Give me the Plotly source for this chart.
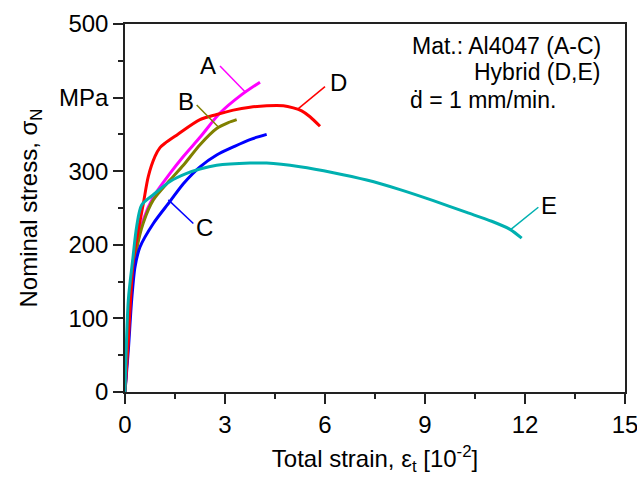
import plotly.graph_objects as go

# ---- data ----
a_x = [0, 0.1, 0.2, 0.35, 0.55, 0.85, 1.35, 1.75, 2.25, 2.85, 3.5, 4.05]
a_y = [0, 80, 145, 197, 234, 265, 297, 320, 346, 379, 404, 421]

b_x = [0, 0.1, 0.2, 0.35, 0.55, 0.85, 1.35, 1.75, 2.25, 2.75, 3.1, 3.35]
b_y = [0, 78, 142, 194, 230, 261, 288, 308, 336, 358, 366, 370]

c_x = [0, 0.1, 0.2, 0.3, 0.45, 0.85, 1.35, 1.75, 2.25, 2.75, 3.25, 3.75, 4.25]
c_y = [0, 57, 125, 170, 197, 229, 259, 283, 306, 322, 333, 343, 350]

d_x = [0, 0.1, 0.25, 0.4, 0.55, 0.7, 0.9, 1.05, 1.2, 1.55, 2.25, 2.75, 3.25,
       3.75, 4.25, 4.75, 5.05, 5.3, 5.55, 5.85]
d_y = [0, 70, 179, 220, 256, 293, 320, 332, 338, 349, 370, 377, 383,
       387, 389, 389, 386, 382, 374, 361]

e_x = [0, 0.1, 0.23, 0.35, 0.5, 0.85, 1.35, 1.85, 2.25, 2.75, 3.75, 4.25,
       5.25, 6.25, 7.25, 8.25, 9.25, 10.25, 11.0, 11.55, 11.9]
e_y = [0, 125, 179, 225, 254, 268, 286, 297, 303, 308, 311, 311,
       306, 298, 288, 275, 260, 244, 232, 221, 209]

labels = ["A", "B", "C", "D", "E"]
colors = ["#FF00FF", "#808000", "#0000FF", "#FF0000", "#00B0B0"]
label_x = [2.49, 1.83, 2.37, 6.39, 12.72]
label_y = [444, 395, 223, 421, 254]
leader_x = [[2.85, 3.6], [2.15, 2.8], [1.3, 2.05], [5.2, 6.0], [11.55, 12.4]]
leader_y = [[443, 408], [390, 360], [261, 229], [385, 415], [220, 251]]

x_ticks = [0, 3, 6, 9, 12, 15]
y_ticks = [0, 100, 200, 300, 400, 500]
y_ticktext = ["0", "100", "200", "300", "MPa", "500"]

info_lines = ["Mat.: Al4047 (A-C)", "Hybrid (D,E)", "ḋ = 1 mm/min."]

FONT = "Liberation Sans, Arial, sans-serif"

fig = go.Figure()
series = [(a_x, a_y), (b_x, b_y), (c_x, c_y), (d_x, d_y), (e_x, e_y)]
for (xs, ys), col, lab in zip(series, colors, labels):
    fig.add_trace(go.Scatter(x=xs, y=ys, mode="lines", name=lab,
                             line=dict(color=col, width=3, shape="spline", smoothing=0.8),
                             showlegend=False, hoverinfo="skip"))
for lx, ly, col in zip(leader_x, leader_y, colors):
    fig.add_trace(go.Scatter(x=lx, y=ly, mode="lines", line=dict(color=col, width=1.5),
                             showlegend=False, hoverinfo="skip"))
for lab, tx, ty in zip(labels, label_x, label_y):
    fig.add_annotation(x=tx, y=ty, text=lab, showarrow=False, yanchor="middle",
                       font=dict(family=FONT, size=24, color="black"))

fig.add_annotation(x=14.35, y=470, xanchor="right", yanchor="middle",
                   text=info_lines[0], showarrow=False,
                   font=dict(family=FONT, size=23, color="black"))
fig.add_annotation(x=14.35, y=435, xanchor="right", yanchor="middle",
                   text=info_lines[1], showarrow=False,
                   font=dict(family=FONT, size=23, color="black"))
fig.add_annotation(x=8.5, y=397, xanchor="left", yanchor="middle",
                   text=info_lines[2], showarrow=False,
                   font=dict(family=FONT, size=23, color="black"))

axis_common = dict(showgrid=False, zeroline=False, showline=True, linecolor="#222",
                   linewidth=1.5, mirror=True, ticks="outside", ticklen=10,
                   tickwidth=1.5, tickcolor="#222", automargin=False,
                   ticklabeloverflow="allow",
                   tickfont=dict(family=FONT, size=24, color="black"))

fig.update_xaxes(range=[0, 15], tickvals=x_ticks, ticktext=[str(v) for v in x_ticks],
                 minor=dict(dtick=1.5, ticks="outside", ticklen=5, tickwidth=1.5, tickcolor="#222"),
                 title=dict(text="Total strain, ε<sub>t</sub> [10<sup>-2</sup>]",
                            font=dict(family=FONT, size=24, color="black"), standoff=14),
                 **axis_common)
fig.update_yaxes(range=[0, 500], tickvals=y_ticks, ticktext=y_ticktext,
                 minor=dict(dtick=50, ticks="outside", ticklen=5, tickwidth=1.5, tickcolor="#222"),
                 title=dict(text="Nominal stress, σ<sub>N</sub>",
                            font=dict(family=FONT, size=24, color="black"), standoff=15),
                 **axis_common)

fig.update_layout(width=637, height=481, margin=dict(l=125, r=12, t=24, b=89),
                  plot_bgcolor="white", paper_bgcolor="white")

fig.write_html("out.html")
